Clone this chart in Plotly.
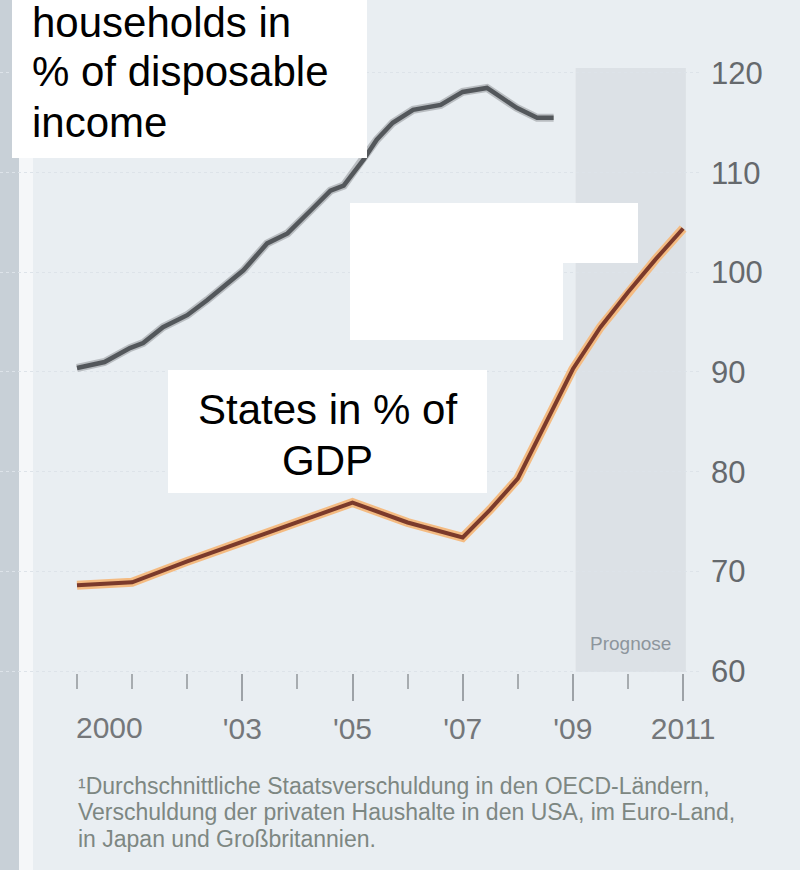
import plotly.graph_objects as go

# ---------------- data ----------------
households_years = [2000.0, 2000.5, 2000.96, 2001.2, 2001.56, 2002.0, 2002.36, 2002.78, 2003.02,
                    2003.45, 2003.82, 2004.24, 2004.6, 2004.84, 2005.2, 2005.44, 2005.73, 2006.1,
                    2006.6, 2007.0, 2007.44, 2007.55, 2007.98, 2008.35, 2008.65]
households_values = [90.4, 91.0, 92.4, 92.9, 94.5, 95.7, 97.2, 99.2, 100.2,
                     102.9, 103.9, 106.2, 108.2, 108.7, 111.3, 113.3, 115.0, 116.3,
                     116.8, 118.1, 118.5, 118.1, 116.5, 115.5, 115.5]

states_years = [2000.0, 2001.0, 2002.0, 2003.0, 2004.0, 2005.0, 2006.0, 2007.0, 2007.5,
                2008.0, 2008.5, 2009.0, 2009.5, 2010.0, 2010.5, 2011.0]
states_values = [68.6, 68.9, 71.0, 73.0, 75.0, 76.9, 74.9, 73.4, 76.2,
                 79.3, 84.8, 90.3, 94.5, 98.0, 101.3, 104.4]

x_tick_vals = [2000, 2003, 2005, 2007, 2009, 2011]
x_tick_text = ["", "'03", "'05", "'07", "'09", "2011"]
minor_tick_vals = list(range(2000, 2012))
y_tick_vals = [60, 70, 80, 90, 100, 110, 120]

forecast_start, forecast_end = 2009.05, 2011.05
forecast_low, forecast_high = 59.9, 120.5

label_households = ["households in", "% of disposable", "income"]
label_states = ["States in % of", "GDP"]
footnote_lines = [
    "\u00b9Durchschnittliche Staatsverschuldung in den OECD-L\u00e4ndern,",
    "Verschuldung der privaten Haushalte in den USA, im Euro-Land,",
    "in Japan und Gro\u00dfbritannien.",
]

# ---------------- layout calibration (pixels) ----------------
W, H = 800, 870
PLOT_W = 700
X_ORIGIN_PX, PX_PER_YEAR = 77, 55.1
Y60_PX, PX_PER_UNIT = 671, 9.967
x_range = [2000 - X_ORIGIN_PX / PX_PER_YEAR, 2000 + (PLOT_W - X_ORIGIN_PX) / PX_PER_YEAR]
y_range = [60 - (H - Y60_PX) / PX_PER_UNIT, 60 + Y60_PX / PX_PER_UNIT]


def px(xp):
    return xp / PLOT_W


def py(yp):
    return 1 - yp / H


BG = "#e9eef2"
TXT = "Liberation Sans, Arial, sans-serif"

fig = go.Figure()

# households (grey)
fig.add_trace(go.Scatter(x=households_years, y=households_values, mode="lines",
                         line=dict(color="#b9bdc1", width=8), hoverinfo="skip", showlegend=False))
fig.add_trace(go.Scatter(x=households_years, y=households_values, mode="lines",
                         line=dict(color="#53575b", width=4.5), showlegend=False))
# states (orange / brown)
fig.add_trace(go.Scatter(x=states_years, y=states_values, mode="lines",
                         line=dict(color="#f4bb82", width=9), hoverinfo="skip", showlegend=False))
fig.add_trace(go.Scatter(x=states_years, y=states_values, mode="lines",
                         line=dict(color="#7b3a2b", width=4), showlegend=False))

shapes = [
    # forecast band
    dict(type="rect", xref="x", yref="y", x0=forecast_start, x1=forecast_end,
         y0=forecast_low, y1=forecast_high, fillcolor="#dce1e6", line=dict(width=0), layer="below"),
    # left strip of neighbouring page
    dict(type="rect", xref="paper", yref="paper", x0=px(0), x1=px(19), y0=0, y1=1,
         fillcolor="#c8d0d7", line=dict(width=0), layer="below"),
    dict(type="rect", xref="paper", yref="paper", x0=px(19), x1=px(33), y0=0, y1=1,
         fillcolor="#f5f7f9", line=dict(width=0), layer="below"),
    # white cover boxes
    dict(type="rect", xref="paper", yref="paper", x0=px(12), x1=px(367), y0=py(158), y1=py(0),
         fillcolor="white", line=dict(width=0), layer="above"),
    dict(type="rect", xref="paper", yref="paper", x0=px(350), x1=px(638), y0=py(263), y1=py(203),
         fillcolor="white", line=dict(width=0), layer="above"),
    dict(type="rect", xref="paper", yref="paper", x0=px(350), x1=px(563), y0=py(340), y1=py(262),
         fillcolor="white", line=dict(width=0), layer="above"),
    dict(type="rect", xref="paper", yref="paper", x0=px(168), x1=px(487), y0=py(493), y1=py(370),
         fillcolor="white", line=dict(width=0), layer="above"),
]

annotations = []
for txt, yc in zip(label_households, [23, 72, 123]):
    annotations.append(dict(text=txt, xref="paper", yref="paper", x=px(30), y=py(yc),
                            xanchor="left", yanchor="middle", showarrow=False,
                            font=dict(family=TXT, size=42, color="#000000")))
for txt, yc in zip(label_states, [409, 460]):
    annotations.append(dict(text=txt, xref="paper", yref="paper", x=px(327.5), y=py(yc),
                            xanchor="center", yanchor="middle", showarrow=False,
                            font=dict(family=TXT, size=42, color="#000000")))
for txt, yc in zip(footnote_lines, [786, 812, 839]):
    annotations.append(dict(text=txt, xref="paper", yref="paper", x=px(76), y=py(yc),
                            xanchor="left", yanchor="middle", showarrow=False,
                            font=dict(family=TXT, size=23, color="#7d8782")))
annotations.append(dict(text="2000", xref="x", yref="paper", x=2000, y=py(727),
                        xanchor="left", yanchor="middle", showarrow=False, xshift=-3,
                        font=dict(family=TXT, size=30, color="#74777a")))
annotations.append(dict(text="Prognose", xref="x", yref="y", x=(forecast_start + forecast_end) / 2,
                        y=62.8, xanchor="center", yanchor="middle", showarrow=False,
                        font=dict(family=TXT, size=19, color="#8d959c")))

fig.update_layout(
    width=W, height=H,
    margin=dict(l=0, r=W - PLOT_W, t=0, b=0, autoexpand=False),
    paper_bgcolor=BG, plot_bgcolor=BG,
    showlegend=False,
    shapes=shapes, annotations=annotations,
    xaxis=dict(range=x_range, domain=[0, 1], anchor="free", position=py(673),
               tickmode="array", tickvals=x_tick_vals, ticktext=x_tick_text,
               ticks="outside", ticklen=27, tickwidth=2, tickcolor="#9da2a7",
               minor=dict(tickmode="array", tickvals=minor_tick_vals, ticks="outside",
                          ticklen=15, tickwidth=1.5, tickcolor="#a7acb0"),
               tickfont=dict(family=TXT, size=30, color="#74777a"),
               ticklabelstandoff=2,
               showgrid=False, zeroline=False, showline=False, automargin=False),
    yaxis=dict(range=y_range, side="right", tickmode="array", tickvals=y_tick_vals,
               ticks="", ticklabelstandoff=10,
               tickfont=dict(family=TXT, size=31, color="#65696d"),
               showgrid=True, gridcolor="#dde3e9", gridwidth=1, griddash="dot",
               zeroline=False, showline=False, automargin=False),
)

fig.write_html("out.html")
